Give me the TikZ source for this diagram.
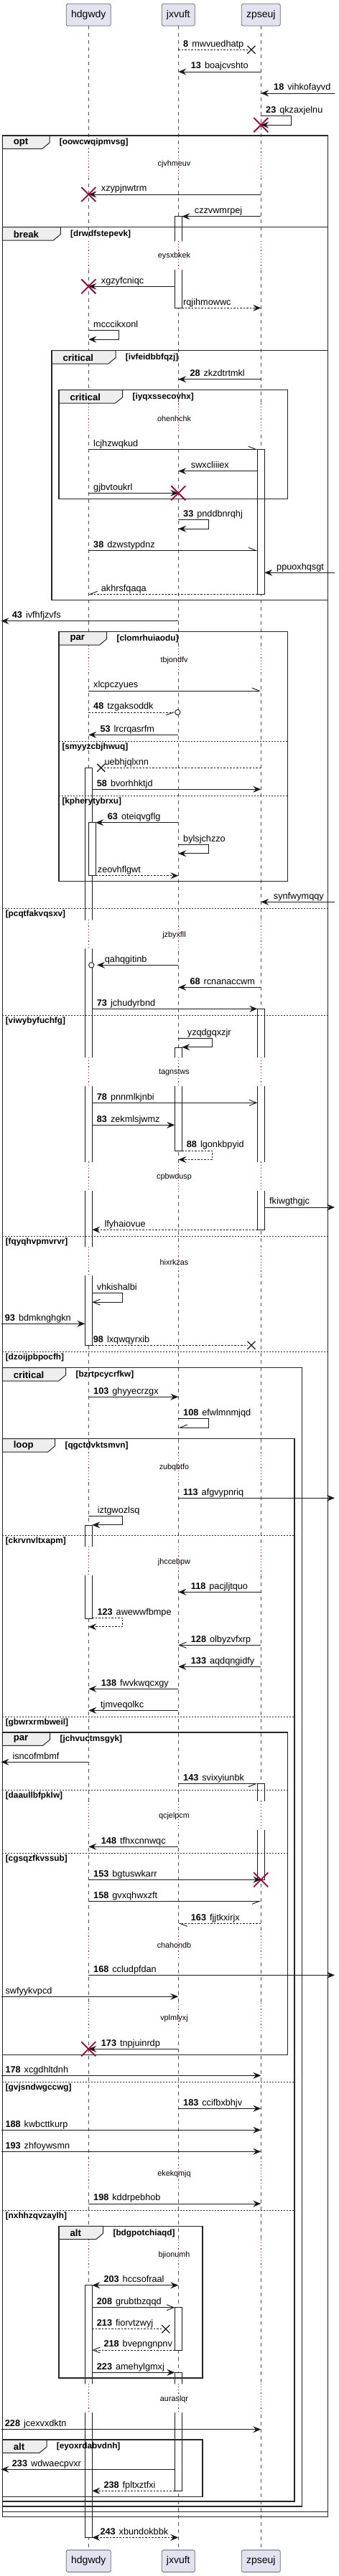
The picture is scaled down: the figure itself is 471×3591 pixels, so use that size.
\documentclass[tikz,border=0pt]{standalone}
\usepackage{fontspec}
\setmainfont{Liberation Sans}
\usepackage{tikz}
\usetikzlibrary{arrows.meta}

\definecolor{ink}{HTML}{181818}
\definecolor{partfill}{HTML}{E2E2F0}
\definecolor{partline}{HTML}{6A6A6A}
\definecolor{killred}{HTML}{A80036}
\definecolor{tabfill}{HTML}{EEEEEE}

% message: [tips]{y}{from}{to}{label x}{number}{text}
\newcommand{\msg}[7][->]{%
  \draw[ml,#1] (#3 |- 0,#2) -- (#4 |- 0,#2);
  \node[lbl] (#7) at (#5,#2-4.2) {\ifx\relax#6\relax\else\textbf{#6}\hspace{5pt}\fi#7};}
% self message: [tips]{y}{from}{turn x}{back to}{label x}{number}{text}
\newcommand{\selfmsg}[8][->]{%
  \draw[ml,#1] (#3 |- 0,#2) -- (#4,#2) -- (#4,#2+12.5) coordinate (selfret) -- (#5 |- selfret);
  \node[lbl] (#8) at (#6,#2-4.2) {\ifx\relax#7\relax\else\textbf{#7}\hspace{5pt}\fi#8};}
% group frame: {x1}{y1}{x2}{y2}{tab end}{kind}{guard}
\newcommand{\grp}[7]{%
  \draw[tabbox] (#1,#2) -- (#5,#2) -- (#5,#2+10) -- (#5-10,#2+18.3) -- (#1,#2+18.3) -- cycle;
  \draw[frm] (#1,#2) rectangle (#3,#4);
  \node[kind] (k#7) at (#1+15.3,#2+9.6) {#6};
  \node[guard] (#7) at (#5+13.7,#2+9.7) {[#7]};}
% else line: {x1}{x2}{y}{guard}
\newcommand{\elsesep}[4]{%
  \draw[sepline] (#1,#3) -- (#2,#3);
  \node[guard] (#4) at (#1+4.3,#3+8.5) {[#4]};}
\newcommand{\lostx}[2]{\draw[ink, line width=1.3pt] (#1-5.5,#2-5.5) -- (#1+5.5,#2+5.5) (#1-5.5,#2+5.5) -- (#1+5.5,#2-5.5);}
\newcommand{\destroyx}[2]{\draw[killred, line width=1.8pt] (#1-10,#2-10) -- (#1+10,#2+10) (#1-10,#2+10) -- (#1+10,#2-10);}

\begin{document}
\begin{tikzpicture}[x=1pt, y=-1pt,
    >={Stealth[length=11pt, width=9pt, inset=4pt]},
    ml/.style={draw=ink, line width=0.9pt},
    dsh/.style={dash pattern=on 2.5pt off 2pt},
    lost/.style={-, dsh},
    opentip/.style={-{Straight Barb[length=10pt, width=8pt]}},
    harpl/.style={-{Straight Barb[left, length=10pt, width=8pt]}},
    harpr/.style={-{Straight Barb[right, length=10pt, width=8pt]}},
    part/.style={draw=partline, fill=partfill, rounded corners=2.5pt, line width=0.8pt,
                 minimum height=30.7pt, inner sep=0pt, font=\fontsize{14}{16}\selectfont},
    life/.style={draw=ink!75, line width=0.6pt, dash pattern=on 5pt off 5pt},
    act/.style={draw=ink, fill=white, line width=0.8pt},
    dly/.style={draw=killred, line width=0.8pt, dash pattern=on 1.2pt off 3pt},
    frm/.style={draw=black!85, line width=1.5pt},
    tabbox/.style={draw=black!85, fill=tabfill, line width=1pt},
    sepline/.style={draw=black!85, line width=0.8pt, dash pattern=on 2pt off 2pt},
    lbl/.style={anchor=base west, inner sep=0pt, font=\fontsize{12.7}{15}\selectfont},
    kind/.style={anchor=west, inner sep=0pt, font=\fontsize{13.2}{15}\selectfont\bfseries},
    guard/.style={anchor=west, inner sep=0pt, font=\fontsize{11.8}{13}\selectfont\bfseries},
    dlytxt/.style={inner sep=0pt, font=\fontsize{10.8}{12}\selectfont}
  ]
  \useasboundingbox (0,0) rectangle (471,3591);

  % Participants, top and bottom
  \node[part, minimum width=62pt] (hd) at (123.3,20.7) {hdgwdy};
  \node[part, minimum width=46pt] (jx) at (248.3,20.7) {jxvuft};
  \node[part, minimum width=54pt] (zp) at (363.3,20.7) {zpseuj};
  \node[part, minimum width=62pt] (bhd) at (123.3,3570.2) {hdgwdy};
  \node[part, minimum width=46pt] (bjx) at (248.3,3570.2) {jxvuft};
  \node[part, minimum width=54pt] (bzp) at (363.3,3570.2) {zpseuj};

  % Anchors for activation edges and the picture borders
  \coordinate (hdL) at (118.3,0);
  \coordinate (hdR) at (128.3,0);
  \coordinate (hdRR) at (133.3,0);
  \coordinate (jxL) at (243.3,0);
  \coordinate (jxR) at (253.3,0);
  \coordinate (zpL) at (358.3,0);
  \coordinate (zpR) at (368.3,0);
  \coordinate (lft) at (1.5,0);
  \coordinate (rgt) at (466,0);
  \coordinate (lostzp) at (345,0);
  \coordinate (losthd) at (145,0);
  \coordinate (lostjx) at (226,0);
  \coordinate (circjx) at (243.5,0);
  \coordinate (circhd) at (135,0);

  % Lifelines
  \foreach \pp in {hd,jx,zp}
    \draw[life] (\pp.south) -- (b\pp.north);

  % Activations
  \foreach \xa/\ya/\xb/\yb in {243.3/301.7/253.3/429.3, 243.3/1460.3/253.3/1604,
      243.3/3216.7/253.3/3276, 243.3/3307.3/253.3/3472.3,
      358.3/626.3/368.3/828.3, 358.3/1406.3/368.3/1714.3, 358.3/2486.7/368.3/2620.3,
      118.3/1070.3/128.3/1875.3, 123.3/1146.7/133.3/1220.7,
      118.3/2126/128.3/2256, 118.3/3185.7/128.3/3537.3}
    \draw[act] (\xa,\ya) rectangle (\xb,\yb);

  % Delays
  \foreach \ty/\dtxt in {207.3/cjvhmeuv, 335.7/eysxbkek, 562.3/ohenhchk, 899.6/tbjondfv,
      1281.9/jzbyxfll, 1473.8/tagnstws, 1619.4/cpbwdusp, 1737.8/hixrkzas,
      2024.3/zubqbtfo, 2155.7/jhccebpw, 2510.4/qcjelpcm, 2689.9/chahondb,
      2791.9/vplmlyxj, 3008.9/ekekqmjq, 3121.8/bjionumh, 3322.8/auraslqr}{
    \fill[white] (111,\ty+0.6) rectangle (140,\ty+40.4)
                 (236,\ty+0.6) rectangle (261,\ty+40.4)
                 (351,\ty+0.6) rectangle (376,\ty+40.4);
    \foreach \pp in {hd,jx,zp}
      \draw[dly] (\pp |- 0,\ty) -- (\pp |- 0,\ty+41);
    \node[dlytxt] (\dtxt) at (242.5,\ty+21.5) {\dtxt};
  }

  % Groups
  \grp{3.3}{189}{456.7}{3508.3}{69}{opt}{oowcwqipmvsg}
  \grp{3.3}{316.7}{456.7}{3501.7}{84.3}{break}{drwdfstepevk}
  \grp{72}{488.7}{456.7}{836.7}{161}{critical}{ivfeidbbfqzj}
  \grp{82}{543.7}{400.7}{695.7}{170.7}{critical}{iyqxssecovhx}
  \grp{82}{880.7}{400.7}{1228.3}{148.7}{par}{clomrhuiaodu}
  \grp{3.3}{1906.7}{420.7}{3494}{91.7}{critical}{bzrtpcycrfkw}
  \grp{3.3}{2005.7}{410}{3487}{76.7}{loop}{qgctdvktsmvn}
  \grp{3.3}{2415}{400.7}{2864.3}{69.7}{par}{jchvuctmsgyk}
  \grp{82}{3103.3}{282}{3315}{143.7}{alt}{bdgpotchiaqd}
  \grp{3.3}{3401}{282}{3480.3}{65}{alt}{eyoxrdabvdnh}
  \elsesep{82}{400.7}{1033.3}{smyyzcbjhwuq}
  \elsesep{82}{400.7}{1109.3}{kpherytybrxu}
  \elsesep{3.3}{456.7}{1266}{pcqtfakvqsxv}
  \elsesep{3.3}{456.7}{1415}{viwybyfuchfg}
  \elsesep{3.3}{456.7}{1723.3}{fqyqhvpmvrvr}
  \elsesep{3.3}{456.7}{1884}{dzoijpbpocfh}
  \elsesep{3.3}{410}{2140.3}{ckrvnvltxapm}
  \elsesep{3.3}{410}{2393.3}{gbwrxrmbweil}
  \elsesep{3.3}{400.7}{2495.3}{daaullbfpklw}
  \elsesep{3.3}{400.7}{2583}{cgsqzfkvssub}
  \elsesep{3.3}{410}{2902}{gvjsndwgccwg}
  \elsesep{3.3}{410}{3081}{nxhhzqvzaylh}

  % Messages
  \msg[lost]{69.3}{jx}{lostzp}{255}{8}{mwvuedhatp}
  \lostx{350}{69.3}
  \msg{100}{zp}{jx}{265.7}{13}{boajcvshto}
  \msg{130}{rgt}{zp}{381}{18}{vihkofayvd}
  \selfmsg{161.7}{zp}{405.3}{zp}{370}{23}{qkzaxjelnu}
  \destroyx{363.3}{174.2}
  \msg{271}{zp}{hd}{140.7}{}{xzypjnwtrm}
  \destroyx{123.3}{271}
  \msg{301.7}{zp}{jxR}{270.7}{}{czzvwmrpej}
  \msg{399.3}{jxL}{hd}{140.7}{}{xgzyfcniqc}
  \destroyx{123.3}{399.3}
  \msg[->,dsh]{429.3}{jxR}{zp}{255}{}{rqjihmowwc}
  \selfmsg{460.7}{hd}{165.3}{hd}{130}{}{mcccikxonl}
  \msg{528.7}{zp}{jx}{264.3}{28}{zkzdtrtmkl}
  \msg[harpl]{626.3}{hd}{zpL}{130}{}{lcjhzwqkud}
  \msg{656.7}{zpL}{jx}{265.7}{}{swxcliiiex}
  \msg{687.3}{hd}{jx}{130}{}{gjbvtoukrl}
  \destroyx{248.3}{687.3}
  \selfmsg{724.7}{jx}{290.7}{jx}{255}{33}{pnddbnrqhj}
  \msg[harpl]{767.3}{hd}{zpL}{130}{38}{dzwstypdnz}
  \msg{798.3}{rgt}{zpR}{385}{}{ppuoxhqsgt}
  \msg[harpr,dsh]{828.3}{zpL}{hd}{140.7}{}{akhrsfqaqa}
  \msg{865.7}{jx}{lft}{16.7}{43}{ivfhfjzvfs}
  \msg[harpl]{963}{hd}{zp}{130}{}{xlcpczyues}
  \msg[harpr,dsh]{993}{hd}{circjx}{130}{48}{tzgaksoddk}
  \draw[ink, fill=white, line width=0.9pt] (247.3,993) circle[radius=3.7pt];
  \msg{1024.3}{jx}{hd}{139.3}{53}{lrcrqasrfm}
  \msg[lost]{1070.3}{zp}{losthd}{145.3}{}{uebhjqlxnn}
  \lostx{140.7}{1070.3}
  \msg{1100.3}{hdR}{zp}{134.7}{58}{bvorhhktjd}
  \msg{1146.7}{jx}{hdRR}{149.7}{63}{oteiqvgflg}
  \selfmsg{1177.3}{jx}{290.7}{jx}{255}{}{bylsjchzzo}
  \msg[->,dsh]{1220.7}{hdRR}{jx}{135.7}{}{zeovhflgwt}
  \msg{1257.3}{rgt}{zp}{380.7}{}{synfwymqqy}
  \msg{1345.3}{jx}{circhd}{145.7}{}{qahqgitinb}
  \draw[ink, fill=white, line width=0.9pt] (127.3,1345.3) circle[radius=3.7pt];
  \msg{1376.3}{zp}{jx}{264.3}{68}{rcnanaccwm}
  \msg{1406.3}{hdR}{zpL}{134.7}{73}{jchudyrbnd}
  \selfmsg{1447.3}{jx}{295.3}{jxR}{260.7}{}{yzqdgqxzjr}
  \msg[opentip]{1537.3}{hdR}{zpL}{134.7}{78}{pnnmlkjnbi}
  \msg{1568.3}{hdR}{jxL}{134.7}{83}{zekmlsjwmz}
  \selfmsg[->,dsh]{1604}{jxR}{295.3}{jx}{259.7}{88}{lgonkbpyid}
  \msg{1683}{zpR}{rgt}{375}{}{fkiwgthgjc}
  \msg[->,dsh]{1714.3}{zpL}{hdR}{145.3}{}{lfyhaiovue}
  \selfmsg[opentip]{1802.7}{hdR}{170.7}{hdR}{134.7}{}{vhkishalbi}
  \msg{1845.3}{lft}{hdL}{6.7}{93}{bdmknghgkn}
  \msg[lost]{1875.3}{hdR}{lostzp}{129.7}{98}{lxqwqyrxib}
  \lostx{350}{1875.3}
  \msg{1947.3}{hd}{jx}{130}{103}{ghyyecrzgx}
  \selfmsg[harpr]{1977.7}{jx}{290.7}{jx}{255}{108}{efwlmnmjqd}
  \msg{2088.3}{jx}{rgt}{255}{113}{afgvypnriq}
  \selfmsg{2113.3}{hd}{170.7}{hdR}{135.7}{}{iztgwozlsq}
  \msg{2219.3}{zp}{jx}{265.7}{118}{pacjljtquo}
  \selfmsg[->,dsh]{2255.3}{hdR}{170.7}{hd}{135.3}{123}{awewwfbmpe}
  \msg[opentip]{2293.3}{zp}{jx}{265.7}{128}{olbyzvfxrp}
  \msg{2323.3}{zp}{jx}{265.7}{133}{aqdqngidfy}
  \msg{2354.3}{jx}{hd}{140.7}{138}{fwvkwqcxgy}
  \msg{2384.3}{jx}{hd}{140}{}{tjmveqolkc}
  \msg{2456.3}{hd}{lft}{17.3}{}{isncofmbmf}
  \msg[harpr]{2486.7}{jx}{zpL}{255}{143}{svixyiunbk}
  \msg{2574.3}{jx}{hd}{140.7}{148}{tfhxcnnwqc}
  \msg{2620.3}{hd}{zp}{130}{153}{bgtuswkarr}
  \destroyx{363.3}{2620.3}
  \msg[harpr]{2650.3}{hd}{zp}{130}{158}{gvxqhwxzft}
  \msg[harpl,dsh]{2681.3}{zp}{jx}{265.7}{163}{fjjtkxirjx}
  \msg{2753.3}{hd}{rgt}{130}{168}{ccludpfdan}
  \msg{2783.3}{lft}{jx}{7.3}{}{swfyykvpcd}
  \msg{2856.3}{jx}{hd}{140.7}{173}{tnpjuinrdp}
  \destroyx{123.3}{2856.3}
  \msg{2893.3}{lft}{zp}{7.3}{178}{xcgdhltdnh}
  \msg{2939.3}{jx}{zp}{255}{183}{ccifbxbhjv}
  \msg{2969.3}{lft}{zp}{7.3}{188}{kwbcttkurp}
  \msg{2999.3}{lft}{zp}{7.3}{193}{zhfoywsmn}
  \msg{3072}{hd}{zp}{130}{198}{kddrpebhob}
  \msg[<->]{3185.7}{hdR}{jx}{144.3}{203}{hccsofraal}
  \msg[opentip]{3216.7}{hdR}{jxL}{134.7}{208}{grubtbzqqd}
  \msg[lost]{3246.7}{hdR}{lostjx}{134.7}{213}{fiorvtzwyj}
  \lostx{230.7}{3246.7}
  \msg[opentip,dsh]{3276}{jxL}{hdR}{144.3}{218}{bvepngnpnv}
  \msg{3307.3}{hdR}{jxL}{134.7}{223}{amehylgmxj}
  \msg{3386.7}{lft}{zp}{6.7}{228}{jcexvxdktn}
  \msg{3442.3}{jxL}{lft}{16.7}{233}{wdwaecpvxr}
  \msg[->,dsh]{3472.3}{jxL}{hdR}{144.3}{238}{fpltxztfxi}
  \msg[<->,dsh]{3537.3}{hdR}{jx}{139.3}{243}{xbundokbbk}
\end{tikzpicture}
\end{document}
